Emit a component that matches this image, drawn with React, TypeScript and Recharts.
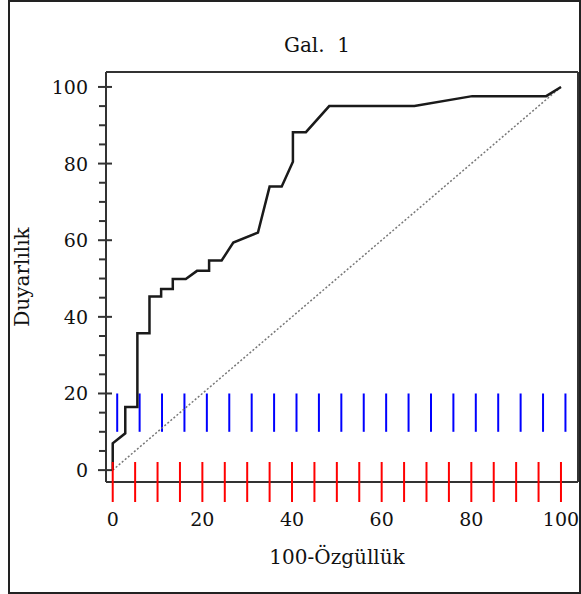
import { LineChart, Line, XAxis, YAxis, Label, ReferenceLine } from 'recharts';

// ROC curve points (100-specificity, sensitivity)
const rocFpr = [0, 0, 2.8, 2.8, 5.5, 5.5, 8.2, 8.2, 10.8, 10.8, 13.4, 13.4, 16.3, 18.8, 21.5, 21.5, 24.3, 26.9, 32.4, 35.0, 37.7, 40.2, 40.2, 43.1, 48.3, 67.3, 80.2, 96.7, 100];
const rocTpr = [0, 7.0, 9.6, 16.5, 16.5, 35.7, 35.7, 45.3, 45.3, 47.3, 47.3, 49.9, 49.9, 52.0, 52.0, 54.7, 54.7, 59.4, 62.0, 74.0, 74.0, 80.5, 88.2, 88.2, 95.0, 95.0, 97.6, 97.6, 100];

// chance diagonal
const refX = [0, 100];
const refY = [0, 100];

const xTicks = [0, 5, 10, 15, 20, 25, 30, 35, 40, 45, 50, 55, 60, 65, 70, 75, 80, 85, 90, 95, 100];
const yTicks = [0, 5, 10, 15, 20, 25, 30, 35, 40, 45, 50, 55, 60, 65, 70, 75, 80, 85, 90, 95, 100];

const title = 'Gal.\u00a0 1';
const xLabel = '100-Özgüllük';
const yLabel = 'Duyarlılık';

const FONT = '"DejaVu Serif", serif';
const INK = '#333';
const X_DOMAIN = [-1.5, 103.8];
const Y_DOMAIN = [-3.1, 103.9];

const rocData = rocFpr.map((x, i) => ({ x, y: rocTpr[i] }));
const refData = refX.map((x, i) => ({ x, y: refY[i] }));

function XTick(props: any) {
  const x = Number(props.x);
  const y = Number(props.y);
  const v = props.payload.value;
  const major = v % 20 === 0;
  return (
    <g>
      <path d={`M${x},${y + 20}L${x},${y - 20}`} stroke="red" strokeWidth={2} fill="none" />
      {major && (
        <text x={x} y={y + 37} textAnchor="middle" dominantBaseline="central" fontFamily={FONT} fontSize={19} fill="#111">
          {v}
        </text>
      )}
    </g>
  );
}

function YTick(props: any) {
  const x = Number(props.x);
  const y = Number(props.y);
  const v = props.payload.value;
  const major = v % 20 === 0;
  return (
    <g>
      <path d={`M${x - (major ? 8 : 7)},${y}L${major ? x + 6 : x},${y}`} stroke={INK} strokeWidth={2} fill="none" />
      {major && (
        <text x={x - 18} y={y} textAnchor="end" dominantBaseline="central" fontFamily={FONT} fontSize={19} fill="#111">
          {v}
        </text>
      )}
    </g>
  );
}

export default function App() {
  return (
    <div style={{ position: 'absolute', left: 0, top: 0, width: 581, height: 594 }}>
      <div
        style={{
          position: 'absolute',
          left: 8,
          top: 0,
          width: 573,
          height: 594,
          border: '2px solid #222',
          boxSizing: 'border-box',
        }}
      />
      <div style={{ position: 'absolute', left: 0, top: 0 }}>
        <LineChart width={581} height={594} margin={{ left: 46, right: 3, top: 72, bottom: 72 }}>
          <XAxis
            dataKey="x"
            type="number"
            domain={X_DOMAIN}
            allowDataOverflow
            ticks={xTicks}
            interval={0}
            height={40}
            tickSize={0}
            tickMargin={0}
            tickLine={false}
            tick={<XTick />}
            axisLine={{ stroke: INK, strokeWidth: 2 }}
          >
            <Label
              content={({ viewBox }: any) => (
                <text
                  x={viewBox.x + viewBox.width / 2 - 5}
                  y={viewBox.y + 75}
                  textAnchor="middle"
                  dominantBaseline="central"
                  fontFamily={FONT}
                  fontSize={20}
                  fill="#111"
                >
                  {xLabel}
                </text>
              )}
            />
          </XAxis>
          <YAxis
            type="number"
            domain={Y_DOMAIN}
            allowDataOverflow
            ticks={yTicks}
            interval={0}
            width={60}
            tickSize={0}
            tickMargin={0}
            tickLine={false}
            tick={<YTick />}
            axisLine={{ stroke: INK, strokeWidth: 2 }}
          >
            <Label
              content={({ viewBox }: any) => {
                const cx = viewBox.x + viewBox.width - 84;
                const cy = viewBox.y + viewBox.height / 2;
                return (
                  <text
                    x={cx}
                    y={cy}
                    transform={`rotate(-90 ${cx} ${cy})`}
                    textAnchor="middle"
                    dominantBaseline="central"
                    fontFamily={FONT}
                    fontSize={20}
                    fill="#111"
                  >
                    {yLabel}
                  </text>
                );
              }}
            />
          </YAxis>
          <ReferenceLine
            y={Y_DOMAIN[1]}
            stroke={INK}
            strokeWidth={2}
            ifOverflow="visible"
            label={({ viewBox }: any) => (
              <text
                x={viewBox.x + 211}
                y={viewBox.y - 27}
                textAnchor="middle"
                dominantBaseline="central"
                fontFamily={FONT}
                fontSize={20}
                fill="#111"
              >
                {title}
              </text>
            )}
          />
          <ReferenceLine x={X_DOMAIN[1]} stroke={INK} strokeWidth={2} ifOverflow="visible" />
          {xTicks.map((v) => (
            <ReferenceLine
              key={v}
              segment={[
                { x: v + 1, y: 10 },
                { x: v + 1, y: 20 },
              ]}
              stroke="blue"
              strokeWidth={2}
              ifOverflow="visible"
            />
          ))}
          <Line
            data={refData}
            dataKey="y"
            type="linear"
            stroke="#777"
            strokeWidth={1.5}
            strokeDasharray="2 2"
            dot={false}
            isAnimationActive={false}
          />
          <Line
            data={rocData}
            dataKey="y"
            type="linear"
            stroke="#1a1a1a"
            strokeWidth={2.5}
            dot={false}
            isAnimationActive={false}
          />
        </LineChart>
      </div>
    </div>
  );
}
